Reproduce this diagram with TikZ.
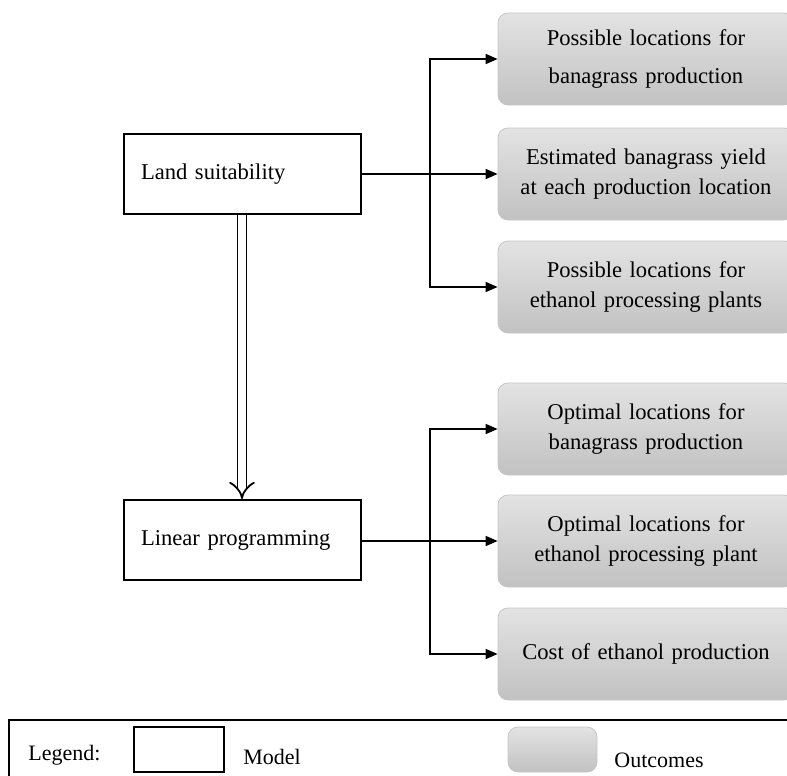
\documentclass[tikz,border=0pt]{standalone}
\usepackage{fontspec}
\setmainfont{Liberation Serif}
\usepackage{tikz}
\usetikzlibrary{arrows.meta,positioning}

\tikzset{
	model/.style={draw, line width=1pt, minimum width=118.5pt, minimum height=40pt, text width=101pt, align=left, inner sep=0pt},
	outcome/.style={draw=gray!45, rounded corners=5pt, top color=gray!22, bottom color=gray!48, minimum width=148pt, minimum height=46pt, text width=146pt, align=center, inner sep=0pt},
	arr/.style={line width=0.8pt, -{Triangle[length=6pt,width=5pt]}},
	legendtext/.style={font=\fontsize{11}{13}\selectfont, anchor=west, inner sep=0pt}
}

\begin{document}
\begin{tikzpicture}[x=0.5pt, y=-0.5pt, font=\fontsize{11.3}{15}\selectfont]
	\clip (0,0) rectangle (787,776);

	\node[model](Land) at (242,174) {Land suitability};
	\node[model](LP) at (242,540) {Linear programming};

	\node[outcome](PossProd) at (646,59) {Possible locations for\\[4pt] banagrass production};
	\node[outcome](EstYield) at (646,174) {Estimated banagrass yield\\ at each production location};
	\node[outcome](PossPlant) at (646,287) {Possible locations for\\ ethanol processing plants};
	\node[outcome](OptProd) at (646,429) {Optimal locations for\\ banagrass production};
	\node[outcome](OptPlant) at (646,541) {Optimal locations for\\ ethanol processing plant};
	\node[outcome](Cost) at (646,654) {Cost of ethanol production};

	\coordinate(J1) at (430,174);
	\coordinate(J2) at (430,541);

	\draw[arr] (Land.east) -- (EstYield.west);
	\draw[arr] (J1) |- (PossProd.west);
	\draw[arr] (J1) |- (PossPlant.west);
	\draw[arr] (LP.east |- J2) -- (OptPlant.west);
	\draw[arr] (J2) |- (OptProd.west);
	\draw[arr] (J2) |- (Cost.west);

	\draw[double, double distance=3.6pt, line width=0.9pt, -{Implies}] (Land.south) -- (LP.north);

	\draw[line width=1pt] (800,720) -- (9,720) -- (9,800);
	\node[legendtext](LegLabel) at (28,755) {Legend:};
	\node[model, minimum width=45pt, minimum height=22.5pt, text width=45pt](LegModel) at (179,749.5) {};
	\node[legendtext](LegModelText) at (243,757) {Model};
	\node[outcome, minimum width=44.5pt, minimum height=22.5pt, text width=44.5pt](LegOut) at (552.5,749.5) {};
	\node[legendtext](LegOutText) at (614,760) {Outcomes};

\end{tikzpicture}
\end{document}
